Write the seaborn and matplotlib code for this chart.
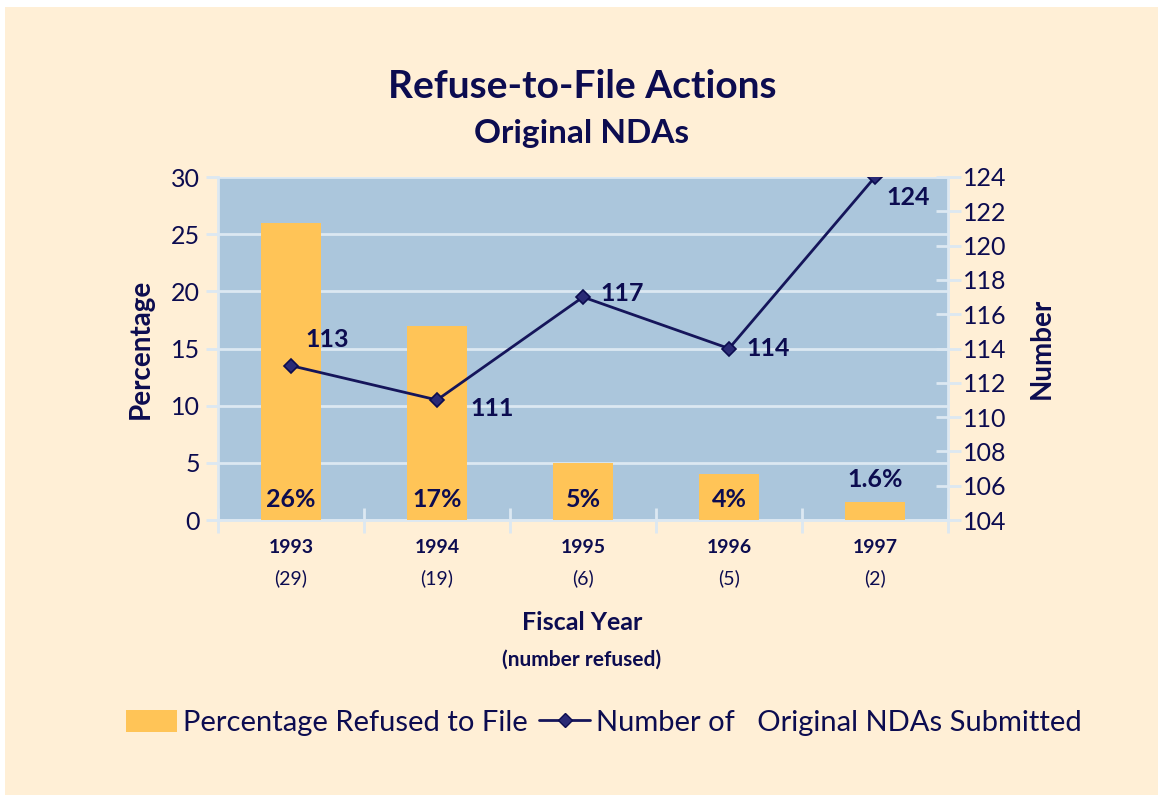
import numpy as np
import pandas as pd
import seaborn as sns
import matplotlib.pyplot as plt
from matplotlib.patches import Rectangle, Patch
from matplotlib.lines import Line2D
import matplotlib.transforms as mtransforms

years = ['1993', '1994', '1995', '1996', '1997']
refused = ['(29)', '(19)', '(6)', '(5)', '(2)']
pct = [26, 17, 5, 4, 1.6]
pct_labels = ['26%', '17%', '5%', '4%', '1.6%']
submitted = [113, 111, 117, 114, 124]

navy = '#0c0c50'
cream = '#ffefd6'
plotbg = '#abc6dc'
barc = '#ffc457'
gridc = '#dce8f2'

sns.set_theme(style='white')
plt.rcParams['font.family'] = ['Lato', 'DejaVu Sans']

fig = plt.figure(figsize=(11.64, 8.01), dpi=100, facecolor='white')
fig.patches.append(Rectangle((5 / 1164, 6 / 801), 1153 / 1164, 788 / 801,
                             transform=fig.transFigure, facecolor=cream,
                             edgecolor='none', zorder=-10))

ax = fig.add_axes([218 / 1164, 1 - 520 / 801, 730 / 1164, 343 / 801])
ax.set_facecolor(plotbg)

df = pd.DataFrame({'year': years, 'pct': pct})
sns.barplot(data=df, x='year', y='pct', color=barc, width=0.41,
            saturation=1, ax=ax, zorder=3, edgecolor='none', linewidth=0)
ax.set_ylim(0, 30)
ax.set_xlim(-0.5, 4.5)
ax.set_yticks(range(0, 31, 5))
ax.grid(axis='y', color=gridc, lw=2, zorder=1)
ax.set_axisbelow(True)
for s in ['left', 'bottom', 'right', 'top']:
    ax.spines[s].set_color(gridc)
    ax.spines[s].set_linewidth(2)
ax.spines['top'].set_visible(False)
ax.tick_params(axis='y', colors=gridc, labelcolor=navy, labelsize=18,
               direction='out', length=9, width=2, left=True, pad=4)
ax.set_xticks(np.arange(-0.5, 5, 1))
ax.set_xticklabels([])
ax.tick_params(axis='x', colors=gridc, direction='inout', length=18,
               width=2, bottom=True)
ax.set_xlabel('')
ax.set_ylabel('Percentage', fontsize=20, fontweight='bold', color=navy,
              labelpad=12)

for i, (v, lab) in enumerate(zip(pct, pct_labels)):
    if v > 3:
        ax.text(i, 0.8, lab, ha='center', va='bottom', fontsize=18,
                fontweight='bold', color=navy, zorder=5)
    else:
        ax.text(i, v + 0.9, lab, ha='center', va='bottom', fontsize=18,
                fontweight='bold', color=navy, zorder=5)

trans = mtransforms.blended_transform_factory(ax.transData, ax.transAxes)
for i, (y, r) in enumerate(zip(years, refused)):
    ax.text(i, -0.08, y, transform=trans, ha='center', va='center',
            fontsize=14, fontweight='bold', color=navy)
    ax.text(i, -0.17, r, transform=trans, ha='center', va='center',
            fontsize=14, color=navy)

ax2 = ax.twinx()
sns.lineplot(x=np.arange(len(years)), y=submitted, ax=ax2, color='#15155a',
             lw=2, marker='D', markersize=7, markerfacecolor='#2a2a75',
             markeredgecolor=navy, markeredgewidth=1.2, zorder=6)
ax2.set_ylim(104, 124)
ax2.set_yticks(range(104, 125, 2))
for s in ['left', 'bottom', 'right', 'top']:
    ax2.spines[s].set_visible(False)
ax2.tick_params(axis='y', colors=gridc, labelcolor=navy, labelsize=18,
                direction='inout', length=18, width=2, right=True, pad=2)
ax2.set_ylabel('Number', fontsize=20, fontweight='bold', color=navy,
               rotation=90, labelpad=16)
ax2.grid(False)

offsets = [(0.1, 1.5), (0.23, -0.5), (0.12, 0.2), (0.12, 0.0), (0.08, -1.2)]
for i, (v, (dx, dy)) in enumerate(zip(submitted, offsets)):
    ax2.text(i + dx, v + dy, str(v), ha='left', va='center', fontsize=18,
             fontweight='bold', color=navy, zorder=7)

fig.text(0.5, 1 - 86 / 801, 'Refuse-to-File Actions', ha='center',
         va='center', fontsize=28, fontweight='bold', color=navy)
fig.text(0.5, 1 - 134 / 801, 'Original NDAs', ha='center', va='center',
         fontsize=24, fontweight='bold', color=navy)
fig.text(582 / 1164, 1 - 623 / 801, 'Fiscal Year', ha='center', va='center',
         fontsize=18, fontweight='bold', color=navy)
fig.text(582 / 1164, 1 - 660 / 801, '(number refused)', ha='center',
         va='center', fontsize=15, fontweight='bold', color=navy)

handles = [Patch(facecolor=barc, edgecolor='none'),
           Line2D([0], [0], color='#15155a', lw=2, marker='D', markersize=7,
                  markerfacecolor='#2a2a75', markeredgecolor=navy)]
fig.legend(handles, ['Percentage Refused to File',
                     'Number of   Original NDAs Submitted'],
           loc='center', bbox_to_anchor=(604 / 1164, 1 - 723 / 801),
           ncol=2, frameon=False, fontsize=21, labelcolor=navy,
           handlelength=1.75, handleheight=0.8, handletextpad=0.2,
           columnspacing=0.4)

fig.savefig('out.png', dpi=100, facecolor='white')
